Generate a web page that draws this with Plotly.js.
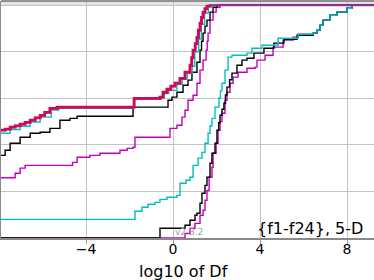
<!DOCTYPE html>
<html><head><meta charset="utf-8">
<script src="https://cdn.plot.ly/plotly-3.0.1.min.js"></script>
<style>html,body{margin:0;padding:0;background:#fff}#c{width:374px;height:280px}</style>
</head><body><div id="c"></div>
<script>
// ECDF data (x = log10 of Df, y = proportion)
const redX = [-8, -7.72, -7.49, -7.26, -7.03, -6.80, -6.57, -6.34, -6.11, -5.90, -5.66, -5.33, -1.79, -0.60, -0.46, -0.28, -0.10, 0.09, 0.32, 0.55, 0.78, 0.86, 0.92, 1.02, 1.10, 1.17, 1.24, 1.31, 1.38, 1.47, 1.56, 1.70, 9.5];
const redY = [0.463, 0.468, 0.476, 0.482, 0.489, 0.497, 0.506, 0.516, 0.527, 0.540, 0.557, 0.562, 0.600, 0.605, 0.626, 0.639, 0.652, 0.665, 0.686, 0.712, 0.742, 0.775, 0.807, 0.835, 0.862, 0.893, 0.923, 0.948, 0.970, 0.985, 0.996, 1.0, 1.0];

const cyanUpX = [-8, -7.49, -7.03, -6.57, -6.11, -5.60, -5.25, -1.79, -0.55, -0.40, -0.20, 0.18, 0.42, 0.65, 0.88, 1.00, 1.18, 1.30, 1.45, 1.62, 1.78, 9.5];
const cyanUpY = [0.450, 0.466, 0.480, 0.498, 0.519, 0.550, 0.557, 0.597, 0.602, 0.620, 0.634, 0.660, 0.682, 0.708, 0.738, 0.800, 0.855, 0.918, 0.966, 0.994, 1.0, 1.0];

const blackUpX = [-8, -7.72, -7.49, -7.03, -6.57, -6.11, -5.66, -5.20, -4.74, -4.41, -1.84, -0.23, -0.05, 0.18, 0.46, 0.69, 0.87, 1.10, 1.24, 1.31, 1.38, 1.47, 1.56, 1.70, 1.84, 2.02, 9.5];
const blackUpY = [0.355, 0.377, 0.407, 0.433, 0.450, 0.454, 0.471, 0.506, 0.514, 0.523, 0.562, 0.592, 0.605, 0.626, 0.656, 0.678, 0.712, 0.755, 0.807, 0.845, 0.880, 0.910, 0.936, 0.970, 0.991, 1.0, 1.0];

const magUpX = [-8, -7.26, -7.03, -6.80, -4.62, -4.41, -3.82, -3.36, -2.44, -2.11, -1.84, -1.75, -0.14, 0.18, 0.41, 0.55, 0.69, 0.92, 1.10, 1.24, 1.38, 1.52, 1.57, 1.61, 1.70, 1.84, 1.98, 2.16, 9.5];
const magUpY = [0.259, 0.278, 0.300, 0.312, 0.325, 0.347, 0.355, 0.364, 0.377, 0.385, 0.390, 0.433, 0.471, 0.484, 0.519, 0.549, 0.592, 0.613, 0.665, 0.721, 0.764, 0.807, 0.845, 0.880, 0.936, 0.970, 0.991, 1.0, 1.0];

const cyanLoX = [-8, -1.75, -1.43, -1.15, -0.83, -0.60, -0.28, 0.18, 0.32, 0.60, 0.78, 0.92, 1.15, 1.33, 1.47, 1.61, 1.70, 1.79, 1.93, 2.11, 2.18, 2.25, 2.39, 2.53, 2.71, 3.40, 3.63, 4.09, 4.83, 5.75, 6.44, 6.62, 6.76, 6.90, 7.22, 7.54, 8.00, 8.23, 9.5];
const cyanLoY = [0.080, 0.115, 0.132, 0.145, 0.153, 0.166, 0.175, 0.183, 0.235, 0.248, 0.261, 0.312, 0.343, 0.368, 0.407, 0.450, 0.482, 0.514, 0.562, 0.600, 0.632, 0.665, 0.721, 0.777, 0.785, 0.794, 0.815, 0.828, 0.858, 0.875, 0.880, 0.893, 0.914, 0.936, 0.957, 0.970, 0.987, 1.0, 1.0];

const blackLoX = [-8, -0.60, 0.55, 0.78, 1.01, 1.10, 1.24, 1.33, 1.47, 1.56, 1.70, 1.79, 1.93, 2.02, 2.10, 2.16, 2.25, 2.34, 2.41, 2.48, 2.60, 2.71, 2.94, 3.17, 3.40, 3.72, 4.18, 4.64, 5.10, 5.70, 6.44, 6.62, 6.76, 6.90, 7.22, 7.54, 8.00, 8.23, 9.5];
const blackLoY = [0.0, 0.042, 0.055, 0.076, 0.098, 0.106, 0.149, 0.192, 0.226, 0.261, 0.321, 0.364, 0.407, 0.463, 0.495, 0.527, 0.553, 0.579, 0.614, 0.648, 0.680, 0.708, 0.742, 0.764, 0.772, 0.794, 0.815, 0.837, 0.854, 0.871, 0.880, 0.893, 0.914, 0.936, 0.957, 0.970, 0.987, 1.0, 1.0];

const magLoX = [-8, 0.55, 0.78, 1.01, 1.24, 1.38, 1.47, 1.56, 1.66, 1.79, 1.84, 1.98, 2.07, 2.16, 2.25, 2.39, 2.48, 2.62, 2.76, 2.99, 3.40, 3.77, 3.86, 4.23, 4.60, 5.06, 5.52, 5.75, 6.44, 6.62, 6.76, 6.90, 7.22, 7.54, 8.00, 8.23, 9.5];
const magLoY = [0.0, 0.020, 0.042, 0.063, 0.098, 0.119, 0.162, 0.204, 0.261, 0.304, 0.364, 0.407, 0.463, 0.500, 0.536, 0.592, 0.626, 0.665, 0.691, 0.712, 0.729, 0.734, 0.764, 0.785, 0.820, 0.850, 0.863, 0.875, 0.880, 0.893, 0.914, 0.936, 0.957, 0.970, 0.987, 1.0, 1.0];

const xTicks = [-4, 0, 4, 8];
const yTicks = [0, 0.2, 0.4, 0.6, 0.8, 1.0];
const xLabel = 'log10 of Df';
const panelLabel = '{f1-f24}, 5-D';
const versionLabel = 'v2.3.2';

const CYAN = '#00bfbf', MAG = '#bf00bf', BLK = '#000000';
function tr(x, y, color, width, opacity) {
  return {x: x, y: y, type: 'scatter', mode: 'lines', line: {shape: 'hv', color: color, width: width},
          opacity: opacity === undefined ? 1 : opacity, hoverinfo: 'skip', showlegend: false, cliponaxis: true};
}
const data = [
  tr(magLoX, magLoY, MAG, 1.4),
  tr(blackLoX, blackLoY, BLK, 1.4),
  tr(cyanLoX, cyanLoY, CYAN, 1.4),
  tr(magUpX, magUpY, MAG, 1.4),
  tr(blackUpX, blackUpY, BLK, 1.4),
  tr(cyanUpX, cyanUpY, CYAN, 1.4),
  tr(redX.slice(0, -1), redY.slice(0, -1), '#ff0000', 2.8),
  tr(redX, redY, '#b0108a', 2.2, 0.8)
];
const layout = {
  width: 374, height: 280,
  margin: {l: 1, r: 0, t: 1, b: 42, pad: 0},
  paper_bgcolor: '#ffffff', plot_bgcolor: '#ffffff',
  font: {family: 'DejaVu Sans', color: '#000'},
  xaxis: {range: [-7.91, 9.24], tickvals: xTicks, ticks: 'outside', ticklen: 4, tickcolor: '#999',
          ticklabelstandoff: -6,
          showgrid: true, gridcolor: '#c4c4c4', gridwidth: 1, zeroline: false,
          showline: true, linecolor: '#8a8a8a', linewidth: 1.5,
          tickfont: {size: 14, family: 'DejaVu Sans', color: '#000'}, automargin: false},
  yaxis: {range: [0, 1.018], tickvals: yTicks, showticklabels: false, ticks: '',
          showgrid: true, gridcolor: '#c4c4c4', gridwidth: 1, zeroline: false,
          showline: true, linecolor: '#8a8a8a', linewidth: 1.5, automargin: false},
  shapes: [
    {type: 'rect', xref: 'paper', yref: 'y', x0: 0, x1: 1, y0: 1.0, y1: 1.018, fillcolor: '#e4e4e4', line: {width: 0}, layer: 'below'},
    {type: 'line', xref: 'paper', yref: 'paper', x0: 0, x1: 1, y0: 1, y1: 1, line: {color: '#707070', width: 1.5}}
  ],
  annotations: [
    {text: xLabel, xref: 'paper', yref: 'paper', x: 0.488, y: 0, yshift: -33, xanchor: 'center', yanchor: 'middle',
     showarrow: false, font: {size: 16, family: 'DejaVu Sans', color: '#000'}},
    {text: panelLabel, xref: 'paper', yref: 'paper', x: 0.976, y: 0.041, xanchor: 'right', yanchor: 'middle',
     showarrow: false, font: {size: 16, family: 'DejaVu Sans', color: '#000'}},
    {text: versionLabel, xref: 'x', yref: 'paper', x: 0, y: 0.026, xanchor: 'left', yanchor: 'middle',
     showarrow: false, font: {size: 9, family: 'DejaVu Sans', color: '#a0a0a0'}}
  ]
};
Plotly.newPlot('c', data, layout, {staticPlot: true, displayModeBar: false});
</script></body></html>
